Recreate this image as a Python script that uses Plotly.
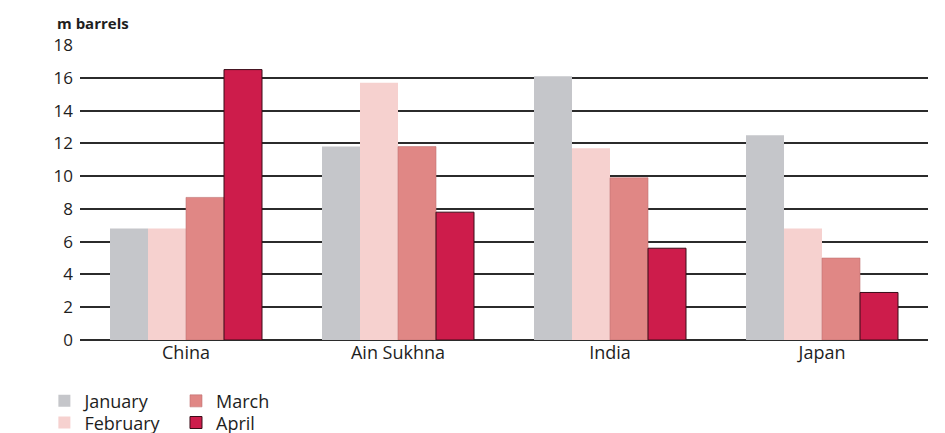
import plotly.graph_objects as go

categories = ["China", "Ain Sukhna", "India", "Japan"]
months = ["January", "February", "March", "April"]
january = [6.8, 11.8, 16.1, 12.5]
february = [6.8, 15.7, 11.7, 6.8]
march = [8.7, 11.8, 9.9, 5.0]
april = [16.5, 7.8, 5.6, 2.9]
y_ticks = [0, 2, 4, 6, 8, 10, 12, 14, 16, 18]

series = [january, february, march, april]
colors = ["#c5c6ca", "#f6d1cf", "#e08785", "#cd1c4b"]
line_colors = ["#c5c6ca", "#f6d1cf", "#c07272", "#3a0d18"]
line_widths = [0, 0, 0.6, 1]
legend_ids = ["legend2", "legend3", "legend4", "legend5"]
# legend placement (x in paper fraction, y in container fraction)
legend_x = [-0.042, -0.042, 0.1132, 0.1132]
legend_y = [0.092, 0.042, 0.092, 0.042]

fig = go.Figure()
for name, vals, c, lc, lw, lg in zip(months, series, colors, line_colors, line_widths, legend_ids):
    fig.add_trace(go.Bar(
        x=categories, y=vals, name=name,
        marker=dict(color=c, line=dict(color=lc, width=lw)),
        legend=lg,
    ))

font_family = "Open Sans, Lato, sans-serif"
ink = "#1e1e1e"

legend_layout = {}
for lg, lx, ly in zip(legend_ids, legend_x, legend_y):
    legend_layout[lg] = dict(
        orientation="v", x=lx, xanchor="left", y=ly, yanchor="middle",
        yref="container", font=dict(size=18, color=ink),
        bgcolor="rgba(0,0,0,0)", tracegroupgap=0, itemwidth=30,
    )

fig.update_layout(
    width=945, height=433,
    paper_bgcolor="white", plot_bgcolor="white",
    barmode="group", bargap=0.283, bargroupgap=0.0,
    margin=dict(l=72, r=25, t=37, b=101),
    font=dict(family=font_family, size=17, color=ink),
    showlegend=True,
    xaxis=dict(
        showgrid=False, showline=False, ticks="",
        tickfont=dict(size=18, color=ink),
    ),
    yaxis=dict(
        range=[0, 18], tickvals=y_ticks,
        showgrid=True, gridcolor="#2b2b2b", gridwidth=1.5,
        zeroline=True, zerolinecolor="#2b2b2b", zerolinewidth=1.5,
        showline=False, ticks="", ticklabelstandoff=6,
        tickfont=dict(size=17, color=ink),
    ),
    annotations=[dict(
        text="<b>m barrels</b>", x=0, xref="paper", xanchor="left",
        xshift=-25, y=18, yref="y", yanchor="bottom", yshift=10,
        showarrow=False, font=dict(size=15, color=ink),
    )],
    **legend_layout,
)

fig.write_html("out.html")
